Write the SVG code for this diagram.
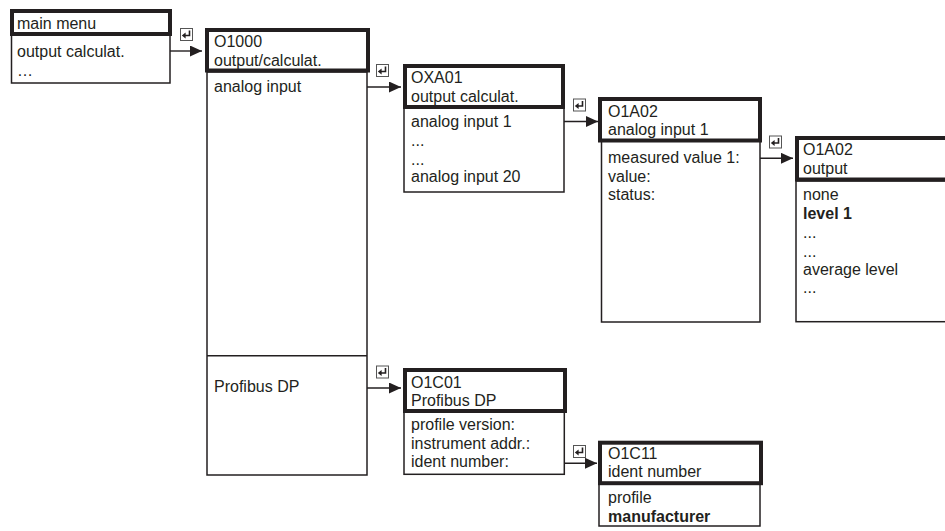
<svg xmlns="http://www.w3.org/2000/svg" width="945" height="531" viewBox="0 0 945 531">
<style>
text{font-family:"Liberation Sans",Arial,sans-serif;font-size:16px;fill:#231f20}
.b{font-weight:bold}
.hd{fill:#fff;stroke:#231f20;stroke-width:4}
.bd{fill:#fff;stroke:#231f20;stroke-width:1.5}
.cn{fill:none;stroke:#231f20;stroke-width:1.4}
.ic{fill:#fff;stroke:#555;stroke-width:1}
</style>
<defs>
<marker id="ah" markerUnits="userSpaceOnUse" markerWidth="12" markerHeight="11" refX="12" refY="5.5" orient="auto">
<path d="M0,0 L12,5.5 L0,11 z" fill="#231f20"/>
</marker>
<g id="enter">
<rect class="ic" x="0.5" y="0.5" width="12" height="12"/>
<path d="M9.5,2.5 V7.5 H5" fill="none" stroke="#231f20" stroke-width="1.6"/>
<path d="M1.8,7.5 L5.6,4.4 L5.6,10.6 z" fill="#231f20"/>
</g>
</defs>
<rect width="945" height="531" fill="#fff"/>
<g id="connectors">
<path class="cn" d="M170,51 H202" marker-end="url(#ah)"/>
<path class="cn" d="M367,87 H401" marker-end="url(#ah)"/>
<path class="cn" d="M543,121.5 H598" marker-end="url(#ah)"/>
<path class="cn" d="M744,158.3 H793" marker-end="url(#ah)"/>
<path class="cn" d="M367,388 H401" marker-end="url(#ah)"/>
<path class="cn" d="M520,463.3 H597" marker-end="url(#ah)"/>
<use href="#enter" x="180" y="28"/>
<use href="#enter" x="376" y="64"/>
<use href="#enter" x="573" y="98.5"/>
<use href="#enter" x="769" y="135.5"/>
<use href="#enter" x="376" y="365.5"/>
<use href="#enter" x="573" y="445"/>
</g>
<g id="main-menu">
<rect class="bd" x="11.5" y="35" width="158.5" height="48"/>
<rect class="hd" x="12" y="11" width="158" height="23"/>
<text x="17" y="29">main menu</text>
<text x="17" y="57">output calculat.</text>
<text x="17" y="76">…</text>
</g>
<g id="O1000">
<rect class="bd" x="207" y="72" width="160" height="403"/>
<line x1="207" y1="355.7" x2="367" y2="355.7" stroke="#231f20" stroke-width="1.5"/>
<rect class="hd" x="207" y="30" width="161" height="40.5"/>
<text x="214" y="47">O1000</text>
<text x="214" y="66">output/calculat.</text>
<text x="214" y="91.5">analog input</text>
<text x="214" y="391.5">Profibus DP</text>
</g>
<g id="OXA01">
<rect class="bd" x="404" y="108" width="160" height="84"/>
<rect class="hd" x="405" y="66" width="158" height="41"/>
<text x="411" y="83.3">OXA01</text>
<text x="411" y="102.3">output calculat.</text>
<text x="411" y="127.3">analog input 1</text>
<text x="411" y="146">...</text>
<text x="411" y="165">...</text>
<text x="411" y="181.7">analog input 20</text>
</g>
<g id="O1A02-input">
<rect class="bd" x="601.5" y="141" width="158.5" height="181"/>
<rect class="hd" x="600" y="99" width="160" height="41.5"/>
<text x="608" y="116.7">O1A02</text>
<text x="608" y="135">analog input 1</text>
<text x="608" y="162.7">measured value 1:</text>
<text x="608" y="181.7">value:</text>
<text x="608" y="200">status:</text>
</g>
<g id="O1A02-output">
<rect class="bd" x="796" y="181" width="170" height="140.7"/>
<rect class="hd" x="797" y="138" width="170" height="41.5"/>
<text x="803" y="155">O1A02</text>
<text x="803" y="174">output</text>
<text x="803" y="200">none</text>
<text x="803" y="219.3" class="b">level 1</text>
<text x="803" y="238">...</text>
<text x="803" y="256.7">...</text>
<text x="803" y="275">average level</text>
<text x="803" y="293">...</text>
</g>
<g id="O1C01">
<rect class="bd" x="404" y="412" width="160.3" height="62.3"/>
<rect class="hd" x="405" y="370" width="160" height="41"/>
<text x="411" y="387.5">O1C01</text>
<text x="411" y="406">Profibus DP</text>
<text x="411" y="430">profile version:</text>
<text x="411" y="449.3">instrument addr.:</text>
<text x="411" y="466.7">ident number:</text>
</g>
<g id="O1C11">
<rect class="bd" x="599" y="484" width="161" height="42"/>
<rect class="hd" x="600" y="442.7" width="161" height="40.5"/>
<text x="608" y="458.5">O1C11</text>
<text x="608" y="477">ident number</text>
<text x="608" y="503">profile</text>
<text x="608" y="521.7" class="b">manufacturer</text>
</g>
</svg>
